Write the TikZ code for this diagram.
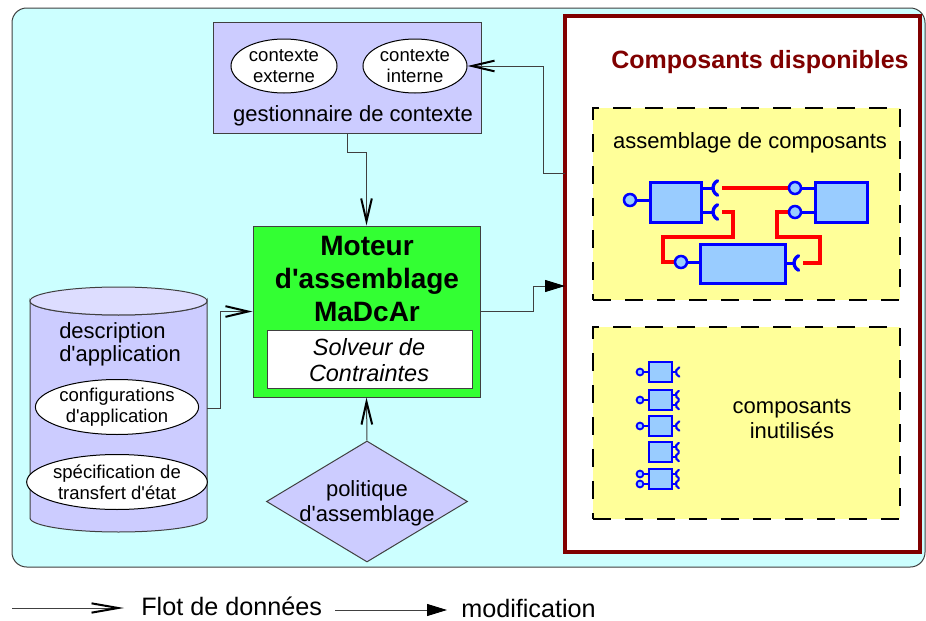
\documentclass[tikz,border=0pt]{standalone}
\usepackage{fontspec}
\setmainfont{Liberation Sans}[Ligatures=TeXOff]
\usetikzlibrary{arrows.meta,shapes.geometric,fit}
\definecolor{bgc}{HTML}{CCFFFF}
\definecolor{lav}{HTML}{CCCCFF}
\definecolor{lavlt}{HTML}{DDDDFF}
\definecolor{motg}{HTML}{33FF33}
\definecolor{dred}{HTML}{800000}
\definecolor{yel}{HTML}{FFFF99}
\definecolor{cblue}{HTML}{0000FF}
\definecolor{cfill}{HTML}{99CCFF}
\definecolor{edge}{HTML}{404040}
\newcommand\fsz[2]{\fontsize{#1pt}{#2pt}\selectfont}
\begin{document}
\begin{tikzpicture}[x=0.75pt,y=-0.75pt,
  box/.style={inner sep=0pt, draw=edge, line width=0.75pt},
  ell/.style={ellipse, draw=black, line width=0.75pt, fill=white, inner sep=0pt, align=center},
  flow/.style={draw=edge, line width=0.75pt, -{Straight Barb[length=17pt,width=8pt,line width=1.5pt,color=black]}},
  lflow/.style={draw=edge, line width=0.75pt, -{Straight Barb[length=20pt,width=7pt,line width=1.5pt,color=black]}},
  modif/.style={draw=edge, line width=0.75pt, -{Triangle[length=15pt,width=9pt,color=black]}},
  yelbox/.style={inner sep=0pt, draw=black, line width=1.1pt, dash pattern=on 13.5pt off 10.5pt, fill=yel},
  comp/.style={draw=cblue, fill=cfill, line width=2.25pt},
  ballst/.style={draw=cblue, fill=cfill, line width=1.9pt},
  scomp/.style={draw=cblue, fill=cfill, line width=1.9pt},
  sball/.style={draw=cblue, fill=cfill, line width=1.4pt},
  stick/.style={draw=cblue, line width=2.25pt},
  sock/.style={draw=cblue, line width=2.5pt, line cap=round},
  sstick/.style={draw=cblue, line width=1.6pt, line cap=round},
  wire/.style={draw=red, line width=3pt},
  txt/.style={inner sep=0pt, align=center}
]
\useasboundingbox (0,0) rectangle (926,621);
% background
\draw[draw=edge, line width=0.75pt, fill=bgc, rounded corners=11pt] (12,8) rectangle (925,567);

% available components
\node[fit={(565,16)(920,552)}, inner sep=0pt, draw=dred, line width=3pt, fill=white] (avail) {};
\node[txt, text=dred, font=\fsz{18.75}{22}\bfseries] (title) at (760,62) {Composants disponibles};
\node[fit={(593,108)(900,300)}, yelbox] (asm) {};
\node[fit={(593,327)(900,519)}, yelbox] (unused) {};
\node[txt, font=\fsz{16.5}{19}] (asmt) at (750,143) {assemblage de composants};
\node[txt, font=\fsz{16.5}{18.75}] (unt) at (792,419) {composants\\inutilisés};

% assembled components: wires
\draw[wire] (722,188) -- (790,188);
\draw[wire] (722,212) -- (733,212) -- (733,237) -- (663,237) -- (663,262) -- (678,262);
\draw[wire] (803,263) -- (820,263) -- (820,237) -- (777,237) -- (777,212) -- (790,212);
% sticks
\draw[stick] (635,200) -- (650,200);
\draw[stick] (701,188) -- (713,188);
\draw[stick] (701,212) -- (713,212);
\draw[stick] (800,188) -- (815,188);
\draw[stick] (800,212) -- (815,212);
\draw[stick] (686,262) -- (700,262);
\draw[stick] (785,263) -- (794,263);
% boxes
\draw[comp] (650,182) rectangle (701,222);
\draw[comp] (815,182) rectangle (867,222);
\draw[comp] (700,244) rectangle (785,283);
% balls
\draw[ballst] (630,200) circle (6);
\draw[ballst] (795,188) circle (6);
\draw[ballst] (795,212) circle (6);
\draw[ballst] (681,262) circle (6);
% sockets
\draw[sock] ([shift={(115:8)}]721,188) arc (115:245:8);
\draw[sock] ([shift={(115:8)}]721,212) arc (115:245:8);
\draw[sock] ([shift={(115:8)}]802,263) arc (115:245:8);

% unused components
\foreach \y in {372,400,426} {
  \draw[sstick] (643,\y) -- (648,\y);
  \draw[sball] (640,\y) circle (3.4);
}
\draw[sstick] (643,474) -- (648,474);
\draw[sstick] (643,484) -- (648,484);
\draw[sball] (640,474) circle (3.4);
\draw[sball] (640,484) circle (3.4);
\foreach \y in {372,426} {
  \draw[sstick] (672,\y) -- (676,\y);
  \draw[sstick] ([shift={(110:5)}]681,\y) arc (110:250:5);
}
\foreach \y in {400,452,479} {
  \draw[sstick] (672,\y-5) -- (676,\y-5);
  \draw[sstick] (672,\y+5) -- (676,\y+5);
  \draw[sstick] ([shift={(110:4.5)}]680.5,\y-5) arc (110:250:4.5);
  \draw[sstick] ([shift={(110:4.5)}]680.5,\y+5) arc (110:250:4.5);
}
\foreach \y in {372,400,426,452,479} {
  \draw[scomp] (649,\y-10) rectangle (672,\y+10);
}

% context manager
\node[fit={(213,22)(481,133)}, box, fill=lav] (ctx) {};
\node[ell, minimum width=79.5pt, minimum height=40.5pt, font=\fsz{13.9}{15.75}] (cext) at (284,66) {contexte\\externe};
\node[ell, minimum width=78pt, minimum height=40.5pt, font=\fsz{13.9}{15.75}] (cint) at (415,66) {contexte\\interne};
\node[txt, font=\fsz{16.5}{19}] (ctxt) at (353,116) {gestionnaire de contexte};

% motor
\node[fit={(253,226)(480,397)}, box, fill=motg] (motor) {};
\node[txt, font=\fsz{21}{24.75}\bfseries] (mott) at (367,279) {Moteur\\d'assemblage\\MaDcAr};
\node[fit={(267,330)(472,388)}, box, fill=white] (solv) {};
\node[txt, font=\fsz{17.6}{20}\itshape] (solvt) at (369,360) {Solveur de\\Contraintes};

% policy
\node[diamond, box, fill=lav, minimum width=150.75pt, minimum height=90.75pt] (pol) at (367,501.5) {};
\node[txt, font=\fsz{16.5}{18.75}] (polt) at (367,503) {politique\\d'assemblage};

% cylinder
\path[draw=edge, line width=0.75pt, fill=lav] (30,301) -- (30,518)
  arc[start angle=180, end angle=0, x radius=88.5, y radius=14] -- (207,301)
  arc[start angle=0, end angle=180, x radius=88.5, y radius=14] -- cycle;
\draw[draw=edge, line width=0.75pt, fill=lavlt] (118.5,301) ellipse [x radius=88.5, y radius=14];
\node[txt, align=left, anchor=west, font=\fsz{16.5}{17.5}] (desc) at (59,344) {description\\d'application};
\node[ell, minimum width=117pt, minimum height=41.25pt, font=\fsz{13.9}{15.75}] (conf) at (117,407) {configurations\\d'application};
\node[ell, minimum width=117pt, minimum height=41.25pt, font=\fsz{13.9}{15.75}] (spec) at (117,482) {spécification de\\transfert d'état};
\coordinate (cylR) at (207,408);

% connectors
\coordinate (availA) at (565,173);
\coordinate (availB) at (565,286);
\draw[flow] (ctx.south) -- ++(0,19) -| (motor.north);
\draw[flow] (availA) -- (543,173) |- (cint.east);
\draw[modif] (motor.east) -- (533,311.5) |- (availB);
\draw[flow] (pol.north) -- (motor.south);
\draw[flow] (cylR) -- (220,408) |- (motor.west);

% legend
\coordinate (l1a) at (12,608);
\coordinate (l1b) at (124,608);
\coordinate (l2a) at (335,610);
\coordinate (l2b) at (447,610);
\draw[lflow] (l1a) -- (l1b);
\draw[modif] (l2a) -- (l2b);
\node[txt, anchor=west, font=\fsz{18.9}{21}] (leg1) at (141,606) {Flot de données};
\node[txt, anchor=west, font=\fsz{18.9}{21}] (leg2) at (461,608) {modification};
\end{tikzpicture}
\end{document}
